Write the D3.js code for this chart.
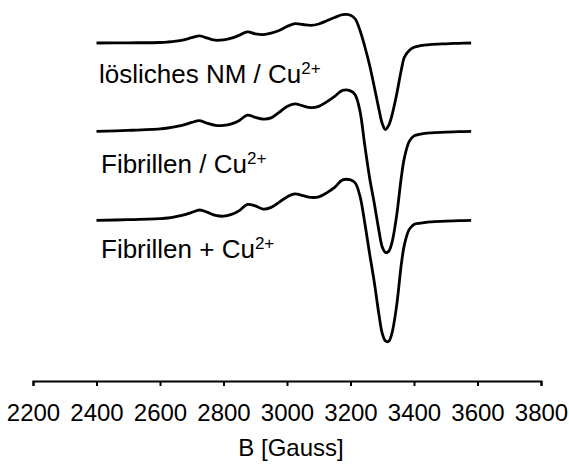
<!DOCTYPE html>
<html>
<head>
<meta charset="utf-8">
<script src="https://cdn.jsdelivr.net/npm/d3@7"></script>
<style>
  html, body { margin: 0; padding: 0; background: #fff; }
  svg { display: block; }
  text { font-family: "Liberation Sans", Arial, Helvetica, sans-serif; fill: #000; }
</style>
</head>
<body>
<svg id="chart" width="569" height="464"></svg>
<script>
// Magnetic field (Gauss) at which each spectrum was sampled
const field = [2400, 2500, 2600, 2625, 2650, 2675, 2700, 2725, 2750, 2775, 2800, 2825, 2850, 2875,
  2900, 2925, 2950, 2975, 3000, 3025, 3050, 3075, 3100, 3125, 3150, 3175, 3200, 3215, 3230,
  3245, 3260, 3275, 3290, 3300, 3310, 3320, 3330, 3345, 3360, 3370, 3385, 3400, 3420, 3450,
  3500, 3540, 3580];

// EPR signal (first derivative, arbitrary units)
const solubleNM = [0, 0.2, 0.5, 1.0, 1.8, 3.2, 5.3, 7.2, 4.8, 2.8, 3.2, 4.8, 7.8, 11.2,
  9.2, 8.4, 9.8, 12.5, 16.5, 19.3, 18.5, 17.7, 19, 22.2, 25.5, 28.3, 27.8, 24, 12.5,
  -3.5, -22, -44, -67, -80.5, -86.5, -82.5, -73, -52, -27, -14, -7.5, -4.3, -2.7, -1.6,
  -0.8, -0.3, 0];
const fibrilsBound = [0, 1, 2.5, 3.4, 4.8, 6.5, 9, 10.8, 8, 6, 6, 7.5, 11, 16.3,
  14, 12.3, 13.5, 19, 25, 27.5, 25.5, 23.7, 25, 29.5, 35, 41, 40.5, 36.5, 20,
  -14, -46, -72, -100, -115.5, -121, -120, -112, -85, -46, -26, -10, -4.5, -2.8, -1.5,
  -0.8, -0.3, 0];
const fibrilsAdded = [0, 0.7, 1.8, 2.4, 3.8, 5.5, 8, 10.4, 8, 5, 4.2, 6, 9.8, 16,
  14.5, 11.3, 13, 18, 23.5, 26.5, 24.8, 23, 23.5, 27.5, 33, 40.5, 40.5, 37.4, 24,
  -2.5, -33, -62, -95, -113, -120.5, -121, -113.5, -86, -44, -24, -9, -4, -2.8, -1.5,
  -0.8, -0.3, 0];

// Vertical offsets that stack the spectra
const offsets = [0, -88.4, -177.4];
const seriesNames = ["lösliches NM / Cu", "Fibrillen / Cu", "Fibrillen + Cu"];
const seriesSup = ["2+", "2+", "2+"];

const xTicks = [2200, 2400, 2600, 2800, 3000, 3200, 3400, 3600, 3800];
const xTitle = "B [Gauss]";

const svg = d3.select("#chart");

const x = d3.scaleLinear().domain([2200, 3800]).range([33, 541]);
const y = d3.scaleLinear().domain([-327, 43]).range([370, 0]);

const series = [solubleNM, fibrilsBound, fibrilsAdded];

const line = d3.line()
  .x(d => x(d[0]))
  .y(d => y(d[1]))
  .curve(d3.curveCatmullRom.alpha(0.5));

svg.append("g")
  .selectAll("path")
  .data(series.map((vals, i) => field.map((f, j) => [f, vals[j] + offsets[i]])))
  .join("path")
  .attr("d", line)
  .attr("fill", "none")
  .attr("stroke", "#000")
  .attr("stroke-width", 2.8)
  .attr("stroke-linejoin", "round");

// Series labels
const labelPos = [[99, 83], [101, 173], [101, 258]];
seriesNames.forEach((name, i) => {
  const t = svg.append("text")
    .attr("x", labelPos[i][0])
    .attr("y", labelPos[i][1])
    .attr("font-size", 26);
  t.append("tspan").text(name);
  t.append("tspan").attr("dy", -9).attr("font-size", 17).text(seriesSup[i]);
});

// Field axis
const axis = d3.axisBottom(x)
  .tickValues(xTicks)
  .tickFormat(d3.format("d"))
  .tickSize(5)
  .tickSizeOuter(5);

const gx = svg.append("g")
  .attr("transform", "translate(0,381)")
  .call(axis);
gx.select(".domain").attr("stroke", "#000").attr("stroke-width", 2);
gx.selectAll(".tick line").attr("stroke", "#000").attr("stroke-width", 2);
gx.selectAll(".tick text")
  .attr("font-size", 24)
  .attr("font-family", "Liberation Sans, Arial, sans-serif")
  .attr("fill", "#000")
  .attr("y", 23)
  .attr("dy", "0.71em");

svg.append("text")
  .attr("x", 291)
  .attr("y", 456)
  .attr("text-anchor", "middle")
  .attr("font-size", 24)
  .text(xTitle);
</script>
</body>
</html>
